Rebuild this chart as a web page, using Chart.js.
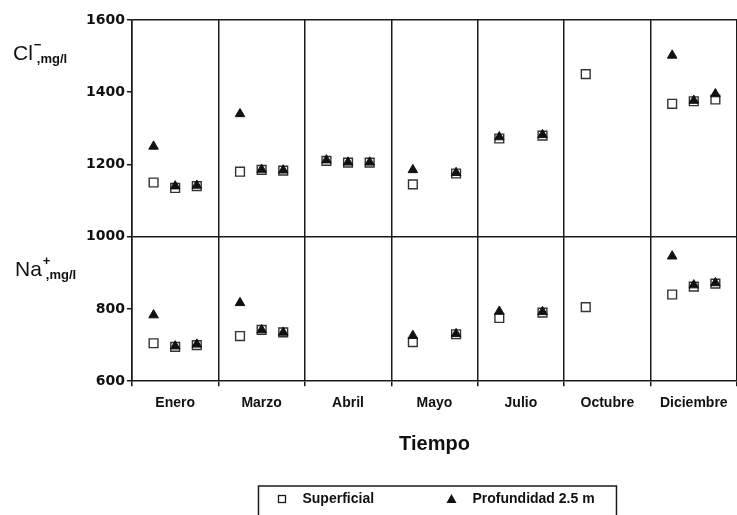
<!DOCTYPE html>
<html lang="es">
<head>
    <meta charset="UTF-8">
    <title>Cl- y Na+ por mes</title>
    <script src="https://cdn.jsdelivr.net/npm/chart.js@4.4.1/dist/chart.umd.min.js"></script>
    <style>
        html, body { margin: 0; padding: 0; background: #fff; }
        .chart-container { position: relative; width: 737px; height: 515px; }
    </style>
</head>
<body>
    <div class="chart-container">
        <canvas id="ion-chart"></canvas>
    </div>
    <script>
        // months shown on the x axis
        const months = ['Enero', 'Marzo', 'Abril', 'Mayo', 'Julio', 'Octubre', 'Diciembre'];
        // three sampling spots inside each month (offset from the month centre)
        const samplePositions = [-0.25, 0, 0.25];

        // Cl- (mg/l), one row per month, one value per sampling spot
        const clSuperficial = [
            [1150, 1135, 1140],
            [1180, 1185, 1183],
            [1210, 1205, 1205],
            [1145, null, 1175],
            [1272, null, 1280],
            [1450, null, null],
            [1368, 1375, 1380]
        ];
        const clProfundidad = [
            [1250, 1140, 1142],
            [1340, 1186, 1184],
            [1212, 1206, 1206],
            [1185, null, 1177],
            [1276, null, 1282],
            [null, null, null],
            [1502, 1377, 1395]
        ];

        // Na+ (mg/l)
        const naSuperficial = [
            [705, 695, 700],
            [725, 742, 735],
            [null, null, null],
            [708, null, 730],
            [775, null, 790],
            [805, null, null],
            [840, 862, 870]
        ];
        const naProfundidad = [
            [783, 697, 702],
            [817, 742, 735],
            [null, null, null],
            [726, null, 731],
            [793, null, 792],
            [null, null, null],
            [946, 866, 872]
        ];

        const yTicks = [600, 800, 1000, 1200, 1400, 1600];

        const ink = '#1a1a1a';

        // turn month rows into scatter points
        function toPoints(rows) {
            const pts = [];
            rows.forEach((row, m) => {
                row.forEach((v, s) => {
                    if (v !== null) pts.push({ x: m + samplePositions[s], y: v });
                });
            });
            return pts;
        }

        // "Cl-,mg/l" and "Na+,mg/l" labels left of the axis
        function drawIon(c, symbol, charge, x, base) {
            c.font = '21px "Liberation Sans"';
            c.textAlign = 'left';
            c.textBaseline = 'alphabetic';
            c.fillText(symbol, x, base);
            const w = c.measureText(symbol).width;
            c.font = 'bold 13px "Liberation Sans"';
            c.fillText(charge, x + w + 1, base - 11);
            c.fillText(',mg/l', x + w + 4, base + 3);
        }

        const axisLabels = {
            id: 'axisLabels',
            afterDraw(chart) {
                const c = chart.ctx;
                const y = chart.scales.y;
                c.save();
                c.fillStyle = '#111';
                drawIon(c, 'Cl', '\u2212', 13, y.getPixelForValue(1490));
                drawIon(c, 'Na', '+', 15, y.getPixelForValue(892));
                c.restore();
            }
        };

        // boxed legend at the bottom, like the original
        const legendBox = {
            id: 'legendBox',
            afterDraw(chart) {
                const c = chart.ctx;
                const area = chart.chartArea;
                const left = (area.left + area.right) / 2 - 176;
                const top = chart.height - 29;
                const midY = top + 13;
                const sets = chart.data.datasets;
                c.save();
                c.strokeStyle = ink;
                c.lineWidth = 1.5;
                c.strokeRect(left, top, 358, 40);

                // Superficial: open square
                c.lineWidth = 1.3;
                c.strokeRect(left + 20, midY - 3.5, 7, 7);
                // Profundidad: filled triangle
                c.fillStyle = '#111';
                c.beginPath();
                c.moveTo(left + 193, midY - 5);
                c.lineTo(left + 198, midY + 4);
                c.lineTo(left + 188, midY + 4);
                c.closePath();
                c.fill();

                c.font = 'bold 14px "Liberation Sans"';
                c.textBaseline = 'middle';
                c.fillText(sets[1].label, left + 44, midY);
                c.fillText(sets[0].label, left + 214, midY);
                c.restore();
            }
        };

        document.addEventListener('DOMContentLoaded', () => {
            const ctx = document.getElementById('ion-chart').getContext('2d');
            new Chart(ctx, {
                type: 'scatter',
                data: {
                    datasets: [
                        {
                            label: 'Profundidad 2.5 m',
                            data: toPoints(clProfundidad).concat(toPoints(naProfundidad)),
                            xAxisID: 'xv',
                            pointStyle: 'triangle',
                            pointRadius: 5.5,
                            backgroundColor: '#111',
                            borderColor: '#111',
                            borderWidth: 1,
                            order: 0
                        },
                        {
                            label: 'Superficial',
                            data: toPoints(clSuperficial).concat(toPoints(naSuperficial)),
                            xAxisID: 'xv',
                            pointStyle: 'rect',
                            pointRadius: 6.2,
                            backgroundColor: '#fff',
                            borderColor: '#333',
                            borderWidth: 1.4,
                            order: 1
                        }
                    ]
                },
                options: {
                    responsive: true,
                    maintainAspectRatio: false,
                    animation: false,
                    layout: { autoPadding: false, padding: { left: 84, top: 20, right: -2, bottom: 59 } },
                    plugins: {
                        legend: { display: false },
                        tooltip: { enabled: false }
                    },
                    scales: {
                        x: {
                            type: 'category',
                            labels: months,
                            offset: true,
                            grid: { offset: true, color: ink, lineWidth: 1.5, tickLength: 5, tickColor: ink },
                            border: { color: ink, width: 1.5 },
                            ticks: {
                                color: '#111',
                                font: { family: 'Liberation Sans', size: 14, weight: 'bold' },
                                padding: 9,
                                maxRotation: 0,
                                autoSkip: false
                            },
                            title: {
                                display: true,
                                text: 'Tiempo',
                                color: '#111',
                                font: { family: 'Liberation Sans', size: 20, weight: 'bold' },
                                padding: { top: 11, bottom: 0 }
                            }
                        },
                        xv: { type: 'linear', display: false, min: -0.5, max: 6.5 },
                        y: {
                            min: 600,
                            max: 1600,
                            afterBuildTicks: axis => { axis.ticks = yTicks.map(v => ({ value: v })); },
                            grid: {
                                color: c => (c.tick && (c.tick.value === 1000 || c.tick.value === 1600)) ? ink : 'rgba(0,0,0,0)',
                                lineWidth: 1.5,
                                tickLength: 5,
                                tickColor: ink
                            },
                            border: { color: ink, width: 1.5 },
                            ticks: {
                                color: '#111',
                                font: { family: 'DejaVu Sans', size: 14, weight: 'bold' },
                                padding: 2,
                                callback: v => String(v)
                            }
                        }
                    }
                },
                plugins: [axisLabels, legendBox]
            });
        });
    </script>
</body>
</html>
